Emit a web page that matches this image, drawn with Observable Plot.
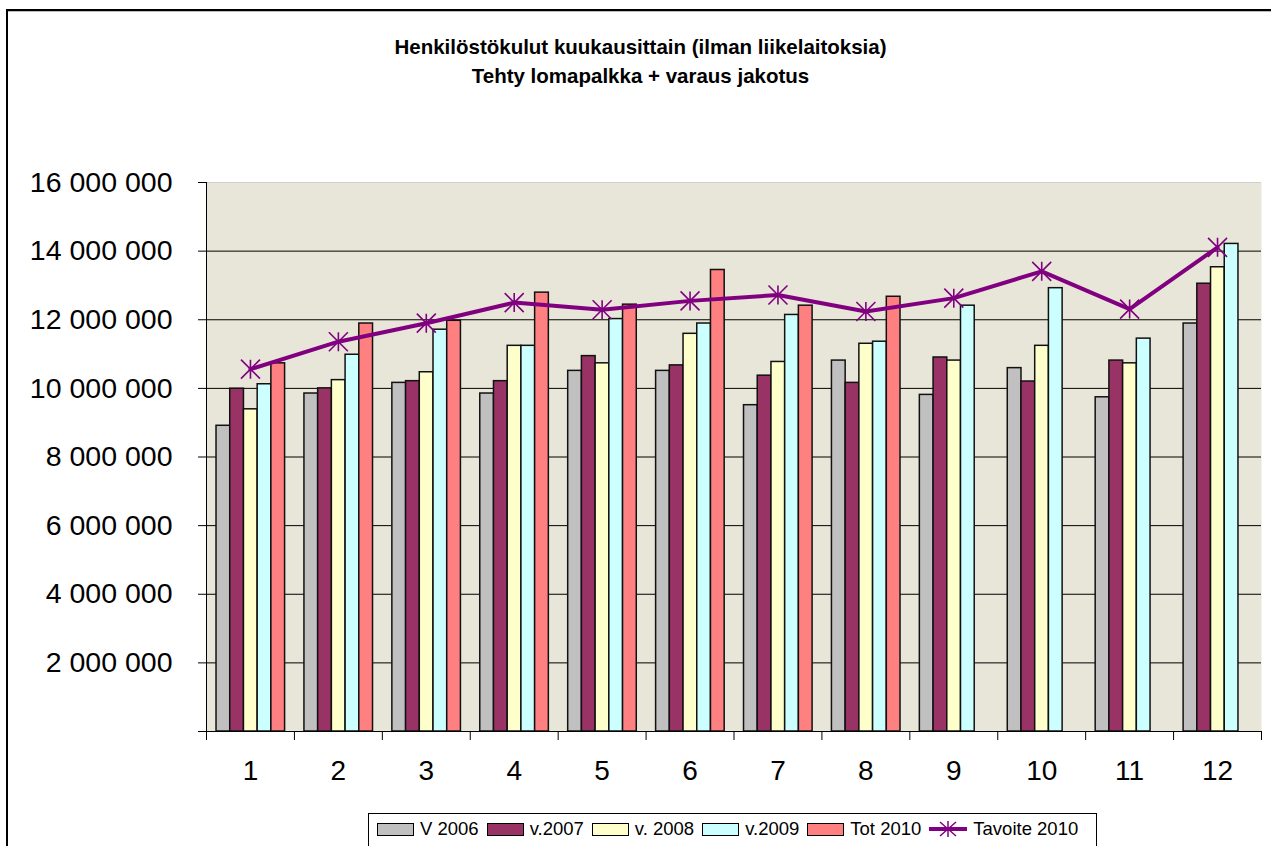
<!DOCTYPE html>
<html>
<head>
<meta charset="utf-8">
<script src="https://cdn.jsdelivr.net/npm/d3@7"></script>
<script src="https://cdn.jsdelivr.net/npm/@observablehq/plot@0.6"></script>
<style>
  body { margin: 0; background: #fff; font-family: "Liberation Sans", Arial, sans-serif; }
  #wrap { position: relative; width: 1271px; height: 846px; overflow: hidden; background: #fff; }
  #frame { position: absolute; left: 6px; top: 9px; width: 1400px; height: 1000px;
           border-left: 2px solid #000; border-top: 2px solid #000; pointer-events: none;
           box-shadow: inset 0 1px 0 #bbb; }
  #title { height: 120px; box-sizing: border-box; padding-top: 32px; padding-left: 10px;
           text-align: center; font-weight: bold; font-size: 20.5px; line-height: 29px; color: #000; }
  #chart svg { display: block; }
  #legend { position: absolute; left: 368px; top: 813px; width: 729px; height: 40px;
            border: 1px solid #000; box-sizing: border-box; display: flex; align-items: flex-start;
            padding: 6px 0 0 8px; font-size: 18.5px; line-height: 18px; color: #000; }
  .item { display: flex; align-items: center; margin-right: 8px; }
  .sw { display: inline-block; width: 35px; height: 11px; border: 1.5px solid #000; margin-right: 6px; }
  .lsvg { margin-right: 6px; }
</style>
</head>
<body>
<div id="wrap">
  <div id="frame"></div>
  <div id="title">Henkilöstökulut kuukausittain (ilman liikelaitoksia)<br>Tehty lomapalkka + varaus jakotus</div>
  <div id="chart"></div>
  <div id="legend"></div>
</div>
<script>
// ---- data ----
const months = [1, 2, 3, 4, 5, 6, 7, 8, 9, 10, 11, 12];
const seriesNames = ["V 2006", "v.2007", "v. 2008", "v.2009", "Tot 2010"];
const v2006   = [8910000, 9850000, 10160000, 9850000, 10510000, 10510000, 9510000, 10810000, 9810000, 10590000, 9740000, 11890000];
const v2007   = [9990000, 10000000, 10210000, 10210000, 10940000, 10670000, 10370000, 10160000, 10900000, 10200000, 10810000, 13050000];
const v2008   = [9390000, 10240000, 10470000, 11240000, 10730000, 11590000, 10770000, 11300000, 10810000, 11240000, 10730000, 13530000];
const v2009   = [10120000, 10980000, 11710000, 11240000, 12020000, 11890000, 12140000, 11360000, 12410000, 12920000, 11450000, 14210000];
const tot2010 = [10730000, 11890000, 11970000, 12790000, 12440000, 13450000, 12410000, 12670000, null, null, null, null];
const lineName = "Tavoite 2010";
const tavoite2010 = [10560000, 11360000, 11900000, 12500000, 12290000, 12550000, 12720000, 12240000, 12630000, 13410000, 12310000, 14110000];
const yTicks = [0, 2000000, 4000000, 6000000, 8000000, 10000000, 12000000, 14000000, 16000000];

// ---- styles ----
const seriesColors = ["#C0C0C0", "#993366", "#FFFFCC", "#CCFFFF", "#FF8080"];
const lineColor = "#800080";

// ---- build tables ----
const seriesValues = [v2006, v2007, v2008, v2009, tot2010];
const slotPad = 0.114, slotW = 0.156;
const bars = [];
seriesValues.forEach((vals, k) => {
  vals.forEach((v, i) => {
    if (v == null) return;
    const x1 = months[i] - 0.5 + slotPad + k * slotW;
    bars.push({ series: seriesNames[k], month: months[i], value: v, x1, x2: x1 + slotW });
  });
});
const lineData = months.map((m, i) => ({ month: m, value: tavoite2010[i] }));
const boundaries = [...months.map(m => m - 0.5), months[months.length - 1] + 0.5];

const star = {
  draw(ctx, size) {
    const r = Math.sqrt(size / Math.PI);
    ctx.moveTo(0, -r); ctx.lineTo(0, r);
    ctx.moveTo(-r, -r); ctx.lineTo(r, r);
    ctx.moveTo(-r, r); ctx.lineTo(r, -r);
  }
};

const fmt = d => d === 0 ? "" : d3.format(",")(d).replace(/,/g, " ");

const plot = Plot.plot({
  width: 1271,
  height: 690,
  marginTop: 62,
  marginBottom: 79,
  marginLeft: 206,
  marginRight: 10,
  style: { fontFamily: '"Liberation Sans", Arial, sans-serif', background: "transparent", color: "#000" },
  x: { type: "linear", domain: [0.5, 12.5], axis: null },
  y: { domain: [0, 16000000], axis: null },
  color: { domain: seriesNames, range: seriesColors },
  marks: [
    Plot.frame({ fill: "#E8E6D8", stroke: null }),
    Plot.ruleY(yTicks.filter(d => d > 0 && d < 16000000), { stroke: "#000", strokeWidth: 1 }),
    Plot.ruleY([16000000], { stroke: "#cfcfcf", strokeWidth: 1 }),
    Plot.rectY(bars, { x1: "x1", x2: "x2", y1: 0, y2: "value", fill: "series", stroke: "#111", strokeWidth: 1.5 }),
    Plot.line(lineData, { x: "month", y: "value", stroke: lineColor, strokeWidth: 4 }),
    Plot.dot(lineData, { x: "month", y: "value", symbol: star, r: 9.5, stroke: lineColor, strokeWidth: 1.6, fill: "none" }),
    Plot.ruleX([0.5], { stroke: "#000", strokeWidth: 1 }),
    Plot.ruleY([0], { stroke: "#000", strokeWidth: 1 }),
    Plot.axisY(yTicks, { anchor: "left", tickSize: 8, tickPadding: 26, fontSize: 28.5, tickFormat: fmt, label: null }),
    Plot.axisX(boundaries, { anchor: "bottom", tickSize: 9, tickFormat: () => "", label: null }),
    Plot.axisX(months, { anchor: "bottom", tickSize: 0, tickPadding: 29, fontSize: 28, label: null })
  ]
});
document.getElementById("chart").appendChild(plot);

// ---- legend ----
const legend = document.getElementById("legend");
seriesNames.forEach((name, k) => {
  const it = document.createElement("div");
  it.className = "item";
  it.innerHTML = `<span class="sw" style="background:${seriesColors[k]}"></span><span>${name}</span>`;
  legend.appendChild(it);
});
const li = document.createElement("div");
li.className = "item";
li.innerHTML = `<svg class="lsvg" width="38" height="18" viewBox="0 0 38 18">
  <line x1="0" y1="9" x2="38" y2="9" stroke="${lineColor}" stroke-width="4"/>
  <path d="M19,1V17M11,2L27,16M11,16L27,2" stroke="${lineColor}" stroke-width="1.5" fill="none"/>
</svg><span>${lineName}</span>`;
legend.appendChild(li);
</script>
</body>
</html>
